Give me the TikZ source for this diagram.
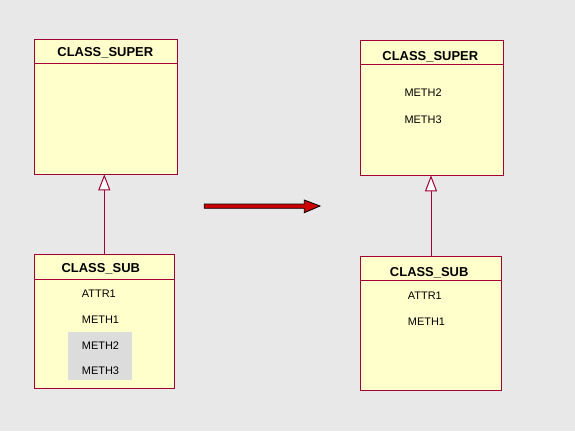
\documentclass[tikz,border=0pt]{standalone}
\usepackage{fontspec}
\setmainfont{Liberation Sans}
\usetikzlibrary{arrows.meta}
\definecolor{bg}{RGB}{232,232,232}
\definecolor{cfill}{RGB}{255,255,204}
\definecolor{cline}{RGB}{160,0,52}
\definecolor{hilite}{RGB}{220,220,220}
\definecolor{bigred}{RGB}{204,0,0}
\tikzset{
  classbox/.style={draw=cline, fill=cfill, line width=1bp, inner sep=0pt, outer sep=0pt, anchor=north west},
  hdrline/.style={draw=cline, line width=1bp},
  ctitle/.style={font=\fontsize{13}{15}\selectfont\bfseries, anchor=base, inner sep=0pt},
  citem/.style={font=\fontsize{11}{13}\selectfont, anchor=base west, inner sep=0pt},
  inherit/.style={draw=cline, line width=1bp, -{Triangle[open, length=16bp, width=12bp, fill=white]}},
}
\begin{document}
\begin{tikzpicture}[x=1bp, y=-1bp]
\useasboundingbox (0,0) rectangle (575,431);
\fill[bg] (0,0) rectangle (575,431);

% ---- left side ----
\node[classbox, minimum width=143bp, minimum height=135bp] (lsup) at (34.3,39.3) {};
\draw[hdrline] (34.3,63.3) -- (177.3,63.3);
\node[ctitle] (lsupt) at (105.3,56.7) {CLASS\_SUPER};

\node[classbox, minimum width=140bp, minimum height=134bp] (lsub) at (34.3,254.3) {};
\draw[hdrline] (34.3,279.3) -- (174.3,279.3);
\node[ctitle] (lsubt) at (100.8,272.3) {CLASS\_SUB};
\fill[hilite] (68,332) rectangle (132,379.7);
\node[citem] (la1) at (81.7,297.3) {ATTR1};
\node[citem] (lm1) at (81.7,323.3) {METH1};
\node[citem] (lm2) at (81.7,349.3) {METH2};
\node[citem] (lm3) at (81.7,374) {METH3};

\draw[inherit] (lsub.north) -- (lsub.north |- lsup.south);

% ---- transformation arrow ----
\filldraw[fill=bigred, draw=black, line width=0.8bp]
  (204.3,204) -- (304.3,204) -- (304.3,200) -- (320,206) -- (304.3,212.7)
  -- (304.3,208.3) -- (204.3,208.3) -- cycle;

% ---- right side ----
\node[classbox, minimum width=143bp, minimum height=135bp] (rsup) at (360.3,40.3) {};
\draw[hdrline] (360.3,64.3) -- (503.3,64.3);
\node[ctitle] (rsupt) at (430.3,60) {CLASS\_SUPER};
\node[citem] (rm2) at (404.3,96.7) {METH2};
\node[citem] (rm3) at (404.3,123.3) {METH3};

\node[classbox, minimum width=141.4bp, minimum height=134.3bp] (rsub) at (360.3,256) {};
\draw[hdrline] (360.3,280.3) -- (501.7,280.3);
\node[ctitle] (rsubt) at (429.2,276) {CLASS\_SUB};
\node[citem] (ra1) at (407.7,299) {ATTR1};
\node[citem] (rm1) at (407.7,325.3) {METH1};

\draw[inherit] (rsub.north) -- (rsub.north |- rsup.south);
\end{tikzpicture}
\end{document}
